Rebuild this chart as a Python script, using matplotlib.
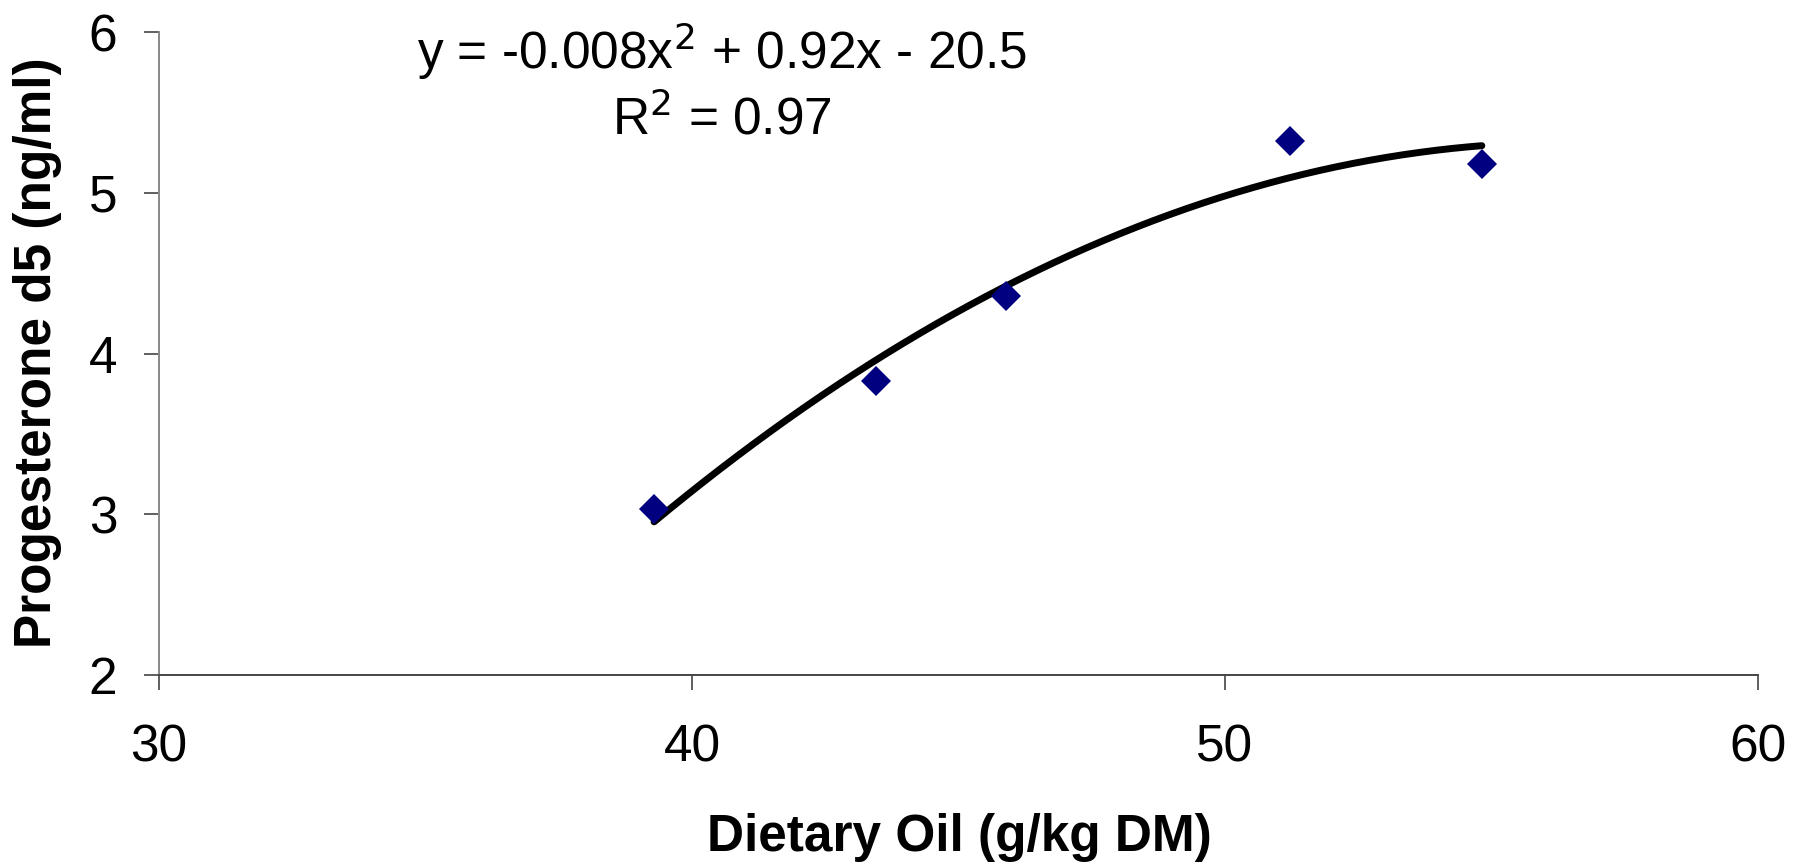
import numpy as np
import matplotlib
matplotlib.use("Agg")
import matplotlib.pyplot as plt

plt.rcParams['font.family'] = ['Liberation Sans', 'DejaVu Sans']

# Dietary oil level (g/kg DM) and day-5 progesterone (ng/ml)
oil = [39.29, 43.46, 45.89, 51.22, 54.82]
progesterone = [3.03, 3.83, 4.36, 5.32, 5.18]

x_ticks = [30, 40, 50, 60]
y_ticks = [2, 3, 4, 5, 6]

equation_text = "y = -0.008x$^2$ + 0.92x - 20.5"
r2_text = "R$^2$ = 0.97"

W, H = 1806, 866
fig = plt.figure(figsize=(W / 100, H / 100), dpi=100)
ax = fig.add_axes([0.088, 0.2206, 0.8854, 0.7424])

# second-order polynomial trendline through the observations
coef = np.polyfit(oil, progesterone, 2)
xs = np.linspace(min(oil), max(oil), 200)
ax.plot(xs, np.polyval(coef, xs), color='black', lw=5, solid_capstyle='round', zorder=2)

ax.plot(oil, progesterone, linestyle='none', marker='D', markersize=15.5,
        color='#000080', markeredgewidth=0, zorder=3)

ax.set_xlim(30, 60)
ax.set_ylim(2, 6)
ax.set_xticks(x_ticks)
ax.set_yticks(y_ticks)
ax.tick_params(axis='both', direction='out', length=11, width=1.2, color='#444444',
               labelsize=37)
ax.tick_params(axis='x', pad=24)
ax.tick_params(axis='y', pad=19)

for side in ('top', 'right'):
    ax.spines[side].set_visible(False)
ax.spines['left'].set_color('#888888')
ax.spines['bottom'].set_color('#444444')
ax.spines['left'].set_linewidth(1.4)
ax.spines['bottom'].set_linewidth(1.4)

fig.text(959 / W, 1 - 837 / H, "Dietary Oil (g/kg DM)", fontsize=37,
         fontweight='bold', ha='center', va='center')
fig.text(38 / W, 1 - 353 / H, "Progesterone d5 (ng/ml)", fontsize=37,
         fontweight='bold', ha='center', va='center', rotation=90)

fig.text(722 / W, 1 - 51 / H, equation_text, fontsize=37, ha='center', va='center')
fig.text(722 / W, 1 - 120 / H, r2_text, fontsize=37, ha='center', va='center')

fig.savefig("out.png", dpi=100)
